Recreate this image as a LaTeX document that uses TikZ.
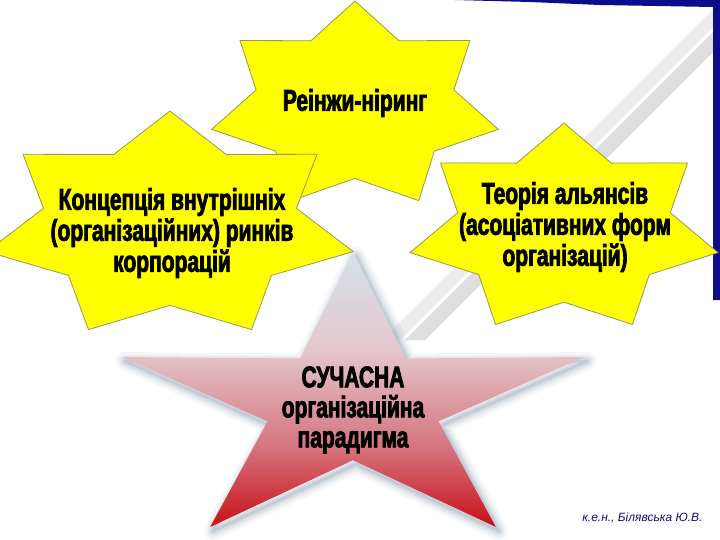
\documentclass[tikz,border=0pt]{standalone}
\usepackage{fontspec}
\newfontfamily\impactlike{Liberation Sans Bold}[FakeStretch=0.7,FakeBold=2.5]
\newfontfamily\authorfont{Liberation Sans Italic}
\definecolor{starYellow}{RGB}{255,255,0}
\definecolor{starEdge}{RGB}{150,150,95}
\definecolor{frameBlue}{RGB}{12,12,140}
\definecolor{stripeLight}{RGB}{236,236,236}
\definecolor{stripeDark}{RGB}{222,222,224}
\definecolor{starTop}{RGB}{214,226,234}
\definecolor{starPink}{RGB}{228,198,204}
\definecolor{starRose}{RGB}{214,118,128}
\definecolor{starRed}{RGB}{200,16,24}
\definecolor{shadowBlue}{RGB}{150,168,182}
\definecolor{authorBlue}{RGB}{16,16,120}
\pgfdeclareverticalshading{redstar}{100bp}{color(0bp)=(starRed); color(25bp)=(starRed); color(40bp)=(starRose); color(57bp)=(starPink); color(75bp)=(starTop); color(100bp)=(starTop)}
\newcommand{\sevenstar}[4]{plot[samples at={0,...,13}, variable=\k] ({#1+(mod(\k,2)==0?1:0.69)*#3*cos(90+\k*180/7)}, {#2-(mod(\k,2)==0?1:0.69)*#4*sin(90+\k*180/7)}) -- cycle}
\newcommand{\fivestar}[4]{plot[samples at={0,...,9}, variable=\k] ({#1+(mod(\k,2)==0?1:0.37)*#3*cos(90+\k*36)}, {#2-(mod(\k,2)==0?1:0.37)*#4*sin(90+\k*36)}) -- cycle}
\tikzset{
	yellowstar/.style={fill=starYellow, draw=starEdge, line width=0.8pt},
	startext/.style={font=\impactlike\fontsize{30}{31}\selectfont, align=center, text=black},
	redtext/.style={font=\impactlike\fontsize{30}{30}\selectfont, align=center, text=black},
	authortext/.style={font=\authorfont\fontsize{12}{14}\selectfont, text=authorBlue}
}
\begin{document}
\begin{tikzpicture}[x=1pt,y=-1pt]
		\useasboundingbox[fill=white] (0,0) rectangle (720,540);
		\fill[stripeLight] (722,0) -- (740,0) -- (400,340) -- (382,340) -- cycle;
		\fill[stripeDark] (745,0) -- (765,0) -- (425,340) -- (405,340) -- cycle;
		\fill[frameBlue] (455,0) -- (720,0) -- (720,300) -- (713,300) -- (713,7) -- (600,5) -- (530,2) -- cycle;
		\draw[yellowstar] \sevenstar{355}{106}{147}{105};
		\draw[yellowstar] \sevenstar{564}{229}{158}{106};
		\draw[yellowstar] \sevenstar{170}{226}{188}{115};
		\foreach \w/\o in {18/0.10,12/0.14,7/0.2,3/0.3}
			\draw[line width=\w pt, draw=shadowBlue, opacity=\o, line join=round, shift={(3,4)}] \fivestar{353}{404}{243}{152};
		\shade[shading=redstar] \fivestar{353}{404}{243}{152};
		\node[startext] (reeng) at (355,103) {Реінжи-ніринг};
		\node[startext] (konts) at (172,233) {Концепція внутрішніх\\(організаційних) ринків\\корпорацій};
		\node[startext] (teor) at (565,227) {Теорія альянсів\\(асоціативних форм\\організацій)};
		\node[redtext] (paradigm) at (353,410) {СУЧАСНА\\організаційна\\парадигма};
		\node[authortext, anchor=east] (avtor) at (706,518) {к.е.н., Білявська Ю.В.};
\end{tikzpicture}
\end{document}
